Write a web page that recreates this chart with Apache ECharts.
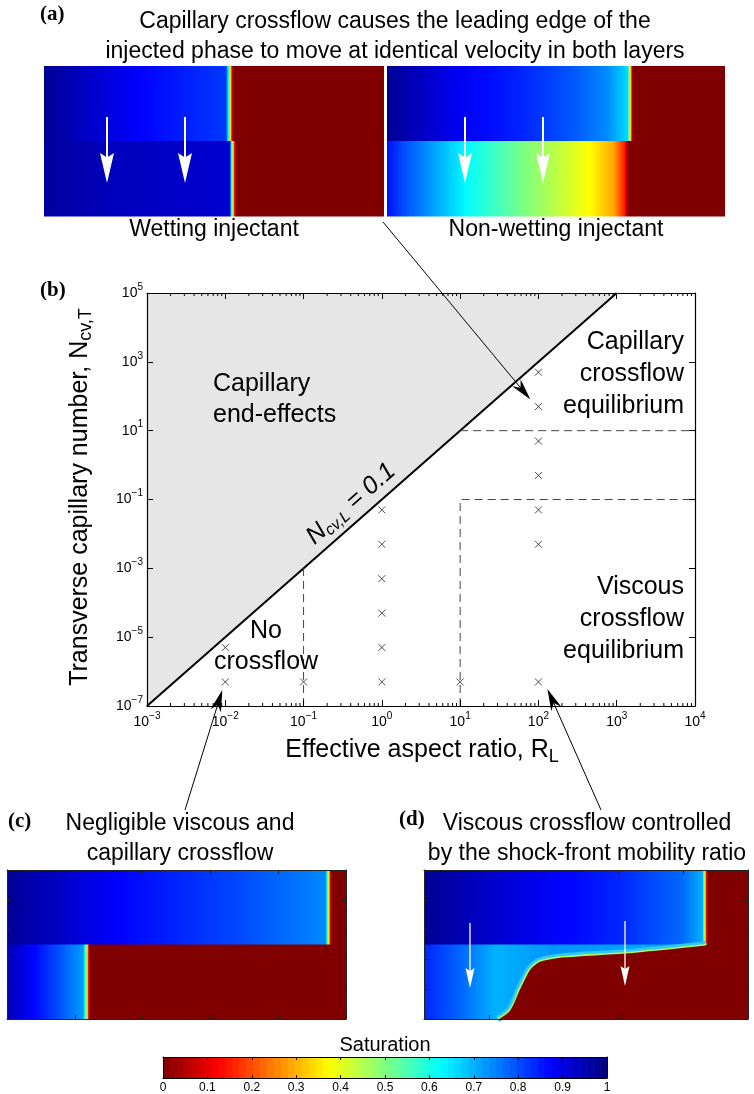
<!DOCTYPE html>
<html>
<head>
<meta charset="utf-8">
<script src="https://cdn.jsdelivr.net/npm/echarts@6/dist/echarts.min.js"></script>
<style>
  html, body { margin: 0; padding: 0; background: #fff; }
  #chart { width: 754px; height: 1094px; }
</style>
</head>
<body>
<div id="chart"></div>
<script>
// ---------------- Regime map (panel b) ----------------
const NCV_L = 0.1;                        // longitudinal capillary number along the regime boundary
const BOUNDARY_RL = [1e-3, 1e3];          // R_L span of the N_cv,L = 0.1 line
const SIM_RL   = [0.01, 0.01, 0.1, 1, 1, 1, 1, 1, 1, 10, 100, 100, 100, 100, 100, 100, 100];
const SIM_NCVT = [5e-6, 5e-7, 5e-7, 5e-2, 5e-3, 5e-4, 5e-5, 5e-6, 5e-7, 5e-7, 5e2, 5e1, 5, 5e-1, 5e-2, 5e-3, 5e-7];
const NOXF_RL  = [0.1, 0.1];   const NOXF_N  = [1e-7, 1e-3];
const VISC_RL  = [10, 10, 1e4]; const VISC_N = [1e-7, 1e-1, 1e-1];
const CAPEQ_RL = [10, 1e4];    const CAPEQ_N = [10, 10];
const X_EXP = [-3, 4];         // decades shown on the R_L axis
const Y_EXP = [-7, 5];         // decades shown on the N_cv,T axis

// ---------------- Saturation fields: [position along layer, saturation] ----------------
const A_WET_TOP = [[0, 0.98], [0.1, 0.94], [0.28, 0.875], [0.535, 0.82], [0.545, 0.55], [0.551, 0.2], [0.556, 0], [1, 0]];
const A_WET_BOT = [[0, 0.97], [0.2, 0.94], [0.545, 0.92], [0.553, 0.55], [0.559, 0.2], [0.564, 0], [1, 0]];
const A_NW_TOP  = [[0, 0.98], [0.2, 0.89], [0.4, 0.84], [0.55, 0.79], [0.65, 0.74], [0.712, 0.66], [0.719, 0.4], [0.727, 0], [1, 0]];
const A_NW_BOT  = [[0, 0.86], [0.05, 0.8], [0.23, 0.63], [0.41, 0.5], [0.6, 0.375], [0.67, 0.29], [0.703, 0.15], [0.714, 0], [1, 0]];
const C_TOP     = [[0, 0.98], [0.33, 0.875], [0.7, 0.8], [0.94, 0.74], [0.948, 0.45], [0.956, 0], [1, 0]];
const C_BOT     = [[0, 0.95], [0.08, 0.87], [0.16, 0.79], [0.225, 0.72], [0.235, 0.45], [0.243, 0], [1, 0]];
const D_TOP     = [[0, 0.98], [0.3, 0.9], [0.6, 0.84], [0.8, 0.77], [0.86, 0.7], [0.866, 0.45], [0.874, 0], [1, 0]];
const D_BOT     = [[0, 0.84], [0.12, 0.77], [0.22, 0.7], [0.4, 0.73], [0.87, 0.7], [1, 0.7]];
// displacement front in the lower layer of panel (d), fractions of the panel width / height
const D_FRONT_X = [0.227, 0.264, 0.293, 0.324, 0.346, 0.367, 0.427, 0.620, 0.864, 0.872];
const D_FRONT_Y = [0, 0.06, 0.195, 0.329, 0.376, 0.396, 0.418, 0.445, 0.497, 0.503];
const LAYER_SPLIT = 0.5;                  // interface between the two layers
const CBAR_LEVELS = 64;                   // colour levels on the saturation bar

const FONT = '"Liberation Sans", Arial, Helvetica, sans-serif';
const SERIF = '"Liberation Serif", "Times New Roman", serif';
const L10 = Math.log10;

// MATLAB-style jet colour map, reversed so that saturation 1 is dark blue
function jet(s) {
  const t = 1 - s;
  const c = v => Math.round(255 * Math.max(0, Math.min(1, v)));
  return 'rgb(' + c(1.5 - Math.abs(4 * t - 3)) + ',' + c(1.5 - Math.abs(4 * t - 2)) + ',' + c(1.5 - Math.abs(4 * t - 1)) + ')';
}
// gradient stops that follow the colour map between successive profile points
function stopsOf(profile) {
  const out = [];
  for (let i = 0; i < profile.length - 1; i++) {
    const [p0, s0] = profile[i], [p1, s1] = profile[i + 1];
    const n = Math.max(1, Math.ceil(Math.abs(s1 - s0) / 0.04));
    for (let k = 0; k < n; k++) {
      const f = k / n;
      out.push({ offset: p0 + (p1 - p0) * f, color: jet(s0 + (s1 - s0) * f) });
    }
  }
  const last = profile[profile.length - 1];
  out.push({ offset: last[0], color: jet(last[1]) });
  return out;
}

function fieldSeries(axisIdx, top, bottom) {
  const layers = [
    { y0: LAYER_SPLIT, y1: 1, profile: top },
    { y0: 0, y1: LAYER_SPLIT, profile: bottom }
  ];
  return {
    type: 'custom', xAxisIndex: axisIdx, yAxisIndex: axisIdx, silent: true, z: 2,
    data: layers.map(l => [0, l.y0, 1, l.y1]),
    encode: { x: [0, 2], y: [1, 3] },
    renderItem(params, api) {
      const tl = api.coord([api.value(0), api.value(3)]);
      const br = api.coord([api.value(2), api.value(1)]);
      return {
        type: 'rect',
        shape: { x: tl[0], y: tl[1], width: br[0] - tl[0], height: br[1] - tl[1] + 0.5 },
        style: { fill: new echarts.graphic.LinearGradient(0, 0, 1, 0, stopsOf(layers[params.dataIndex].profile)) }
      };
    }
  };
}

function expLabel(v) {
  const e = Math.round(v);
  return '{b|10}{s|' + (e < 0 ? '\u2212' + (-e) : e) + '}';
}
const expRich = {
  b: { fontSize: 14, fontFamily: FONT, color: '#000' },
  s: { fontSize: 10, fontFamily: FONT, color: '#000', padding: [0, 0, 12, 0] }
};

function boxAxis(dim, grid, pos, min, max, interval, o) {
  o = o || {};
  return {
    type: 'value', gridIndex: grid, position: pos, min, max, interval, z: 10,
    show: o.hidden ? false : true,
    axisLine: { show: true, onZero: false, lineStyle: { color: o.color || '#000', width: o.lw || 1 } },
    axisTick: { show: o.ticks !== false, inside: true, length: o.tickLen || 5, lineStyle: { color: o.color || '#000', width: 1 } },
    axisLabel: o.label || { show: false },
    splitLine: { show: false },
    minorTick: { show: false }
  };
}

const chart = echarts.init(document.getElementById('chart'), null, { renderer: 'canvas' });

const grids = [
  { left: 147, top: 293, width: 548, height: 413 },   // regime map
  { left: 44, top: 66, width: 340, height: 150 },     // wetting injectant
  { left: 387, top: 66, width: 338, height: 150 },    // non-wetting injectant
  { left: 7, top: 870, width: 339, height: 149 },     // panel c
  { left: 424, top: 870, width: 324, height: 149 },   // panel d
  { left: 163, top: 1057, width: 444, height: 21 }    // colour bar
].map(g => Object.assign({ containLabel: false, outerBoundsMode: 'none' }, g));

const xAxes = [
  boxAxis('x', 0, 'bottom', X_EXP[0], X_EXP[1], 1, { lw: 1.2, tickLen: 6,
    label: { show: true, formatter: expLabel, rich: expRich, margin: 5 } }),
  boxAxis('x', 0, 'top', X_EXP[0], X_EXP[1], 1, { lw: 1.2, tickLen: 6 }),
  boxAxis('x', 1, 'bottom', 0, 1, 1, { hidden: true }),
  boxAxis('x', 2, 'bottom', 0, 1, 1, { hidden: true }),
  boxAxis('x', 3, 'bottom', 0, 1, 0.2, { color: '#222', tickLen: 4 }),
  boxAxis('x', 3, 'top', 0, 1, 0.2, { color: '#222', tickLen: 4 }),
  boxAxis('x', 4, 'bottom', 0, 1, 0.2, { color: '#222', tickLen: 4 }),
  boxAxis('x', 4, 'top', 0, 1, 0.2, { color: '#222', tickLen: 4 }),
  boxAxis('x', 5, 'bottom', 0, 1, 0.1, { tickLen: 3,
    label: { show: true, fontSize: 12, fontFamily: FONT, color: '#000', margin: 4,
      formatter: v => String(+v.toFixed(1)) } }),
  boxAxis('x', 5, 'top', 0, 1, 0.1, { tickLen: 3 })
];
const yAxes = [
  boxAxis('y', 0, 'left', Y_EXP[0], Y_EXP[1], 2, { lw: 1.2, tickLen: 6,
    label: { show: true, formatter: expLabel, rich: expRich, margin: 4 } }),
  boxAxis('y', 0, 'right', Y_EXP[0], Y_EXP[1], 2, { lw: 1.2, tickLen: 6 }),
  boxAxis('y', 1, 'left', 0, 1, 1, { hidden: true }),
  boxAxis('y', 2, 'left', 0, 1, 1, { hidden: true }),
  boxAxis('y', 3, 'left', 0, 1, 0.2, { color: '#222', tickLen: 4 }),
  boxAxis('y', 3, 'right', 0, 1, 0.2, { color: '#222', tickLen: 4 }),
  boxAxis('y', 4, 'left', 0, 1, 0.2, { color: '#222', tickLen: 4 }),
  boxAxis('y', 4, 'right', 0, 1, 0.2, { color: '#222', tickLen: 4 }),
  boxAxis('y', 5, 'left', 0, 1, 1, { ticks: false }),
  boxAxis('y', 5, 'right', 0, 1, 1, { ticks: false })
];

// logarithmic minor ticks along the R_L axis
const MINOR_X = [];
for (let d = X_EXP[0]; d < X_EXP[1]; d++) for (let k = 2; k <= 9; k++) MINOR_X.push([d + L10(k)]);

const toLog = (xs, ys) => xs.map((x, i) => [L10(x), L10(ys[i])]);
const dashed = { color: '#444', width: 1, type: [8, 5] };

const series = [
  // capillary end-effect region above N_cv,L = 0.1
  { type: 'line', xAxisIndex: 0, yAxisIndex: 0, silent: true, z: 3, symbol: 'none',
    data: BOUNDARY_RL.map(r => [L10(r), L10(NCV_L * r * r)]),
    lineStyle: { color: '#000', width: 2 },
    areaStyle: { color: '#e6e6e6', opacity: 1, origin: 'end' } },
  { type: 'line', xAxisIndex: 0, yAxisIndex: 0, silent: true, z: 4, symbol: 'none',
    data: toLog(NOXF_RL, NOXF_N), lineStyle: dashed },
  { type: 'line', xAxisIndex: 0, yAxisIndex: 0, silent: true, z: 4, symbol: 'none',
    data: toLog(VISC_RL, VISC_N), lineStyle: dashed },
  { type: 'line', xAxisIndex: 0, yAxisIndex: 0, silent: true, z: 4, symbol: 'none',
    data: toLog(CAPEQ_RL, CAPEQ_N), lineStyle: dashed },
  { type: 'scatter', xAxisIndex: 0, yAxisIndex: 0, silent: true, z: 6,
    data: toLog(SIM_RL, SIM_NCVT),
    symbol: 'path://M0,0L10,10M10,0L0,10', symbolSize: 7,
    itemStyle: { color: 'none', borderColor: '#222', borderWidth: 1 } },
  { type: 'custom', xAxisIndex: 0, yAxisIndex: 0, silent: true, z: 11, data: MINOR_X,
    renderItem(params, api) {
      const b = api.coord([api.value(0), Y_EXP[0]]);
      const t = api.coord([api.value(0), Y_EXP[1]]);
      return { type: 'group', children: [
        { type: 'line', shape: { x1: b[0], y1: b[1], x2: b[0], y2: b[1] - 3 }, style: { stroke: '#000', lineWidth: 1 } },
        { type: 'line', shape: { x1: t[0], y1: t[1], x2: t[0], y2: t[1] + 3 }, style: { stroke: '#000', lineWidth: 1 } }
      ] };
    } },
  fieldSeries(2, A_WET_TOP, A_WET_BOT),
  fieldSeries(3, A_NW_TOP, A_NW_BOT),
  fieldSeries(4, C_TOP, C_BOT),
  fieldSeries(6, D_TOP, D_BOT),
  // displaced-phase region behind the curved front in panel d
  { type: 'custom', xAxisIndex: 6, yAxisIndex: 6, silent: true, z: 3, data: [[0, 0]],
    renderItem(params, api) {
      const pts = D_FRONT_X.map((x, i) => api.coord([x, D_FRONT_Y[i]]));
      const poly = pts.concat([api.coord([1, D_FRONT_Y[D_FRONT_Y.length - 1]]), api.coord([1, 0])]);
      return { type: 'group', children: [
        { type: 'polyline', shape: { points: pts, smooth: 0.3 }, style: { stroke: '#30c8ff', lineWidth: 7, fill: null } },
        { type: 'polygon', shape: { points: poly, smooth: 0 }, style: { fill: jet(0) } },
        { type: 'polyline', shape: { points: pts, smooth: 0.3 }, style: { stroke: '#a8ff50', lineWidth: 1.6, fill: null } }
      ] };
    } },
  // colour bar
  { type: 'custom', xAxisIndex: 8, yAxisIndex: 8, silent: true, z: 2,
    data: Array.from({ length: CBAR_LEVELS }, (_, i) => [i / CBAR_LEVELS, (i + 1) / CBAR_LEVELS, (i + 0.5) / CBAR_LEVELS]),
    renderItem(params, api) {
      const a = api.coord([api.value(0), 1]);
      const b = api.coord([api.value(1), 0]);
      return { type: 'rect', shape: { x: a[0], y: a[1], width: b[0] - a[0] + 0.6, height: b[1] - a[1] },
        style: { fill: jet(api.value(2)) } };
    } }
];

chart.setOption({
  animation: false,
  backgroundColor: '#fff',
  textStyle: { fontFamily: FONT },
  grid: grids,
  xAxis: xAxes,
  yAxis: yAxes,
  series: series
});

// ---------------- annotations ----------------
function txt(x, y, text, o) {
  o = o || {};
  return { type: 'text', x, y, z: 100, rotation: o.rotation || 0, silent: true,
    style: { text, fontSize: o.size || 22, fontFamily: o.family || FONT, fontWeight: o.weight || 'normal',
      fontStyle: o.style || 'normal', fill: o.fill || '#000', align: o.align || 'center',
      verticalAlign: 'middle', lineHeight: o.lh, rich: o.rich } };
}
function arrow(x0, y0, x1, y1, o) {
  const dx = x1 - x0, dy = y1 - y0, L = Math.hypot(dx, dy), ux = dx / L, uy = dy / L, px = -uy, py = ux;
  const bx = x1 - ux * o.headLen, by = y1 - uy * o.headLen;
  const nx = x1 - ux * o.headLen * (1 - (o.notch || 0)), ny = y1 - uy * o.headLen * (1 - (o.notch || 0));
  return [
    { type: 'line', z: 100, silent: true, shape: { x1: x0, y1: y0, x2: nx + ux, y2: ny + uy },
      style: { stroke: o.color, lineWidth: o.lw } },
    { type: 'polygon', z: 100, silent: true,
      shape: { points: [[x1, y1], [bx + px * o.headW, by + py * o.headW], [nx, ny], [bx - px * o.headW, by - py * o.headW]] },
      style: { fill: o.color } }
  ];
}
const px = (r, n) => chart.convertToPixel({ gridIndex: 0 }, [L10(r), L10(n)]);
const blackArrow = { color: '#000', lw: 1, headLen: 22, headW: 5.5, notch: 0.3 };
const bigWhite = { color: '#fff', lw: 2, headLen: 30, headW: 7, notch: 0.15 };
const smallWhite = { color: '#fff', lw: 1.3, headLen: 20, headW: 4.5, notch: 0.15 };

const tipA = px(100, 5e1), tipC = px(0.01, 5e-7), tipD = px(100, 5e-7);
const sub = (size, pad) => ({ fontSize: size, fontFamily: FONT, fill: '#000', padding: [pad, 0, 0, 0] });

const graphics = [
  txt(40, 15, '(a)', { family: SERIF, weight: 'bold', size: 21, align: 'left' }),
  txt(395, 37, 'Capillary crossflow causes the leading edge of the\ninjected phase to move at identical velocity in both layers', { size: 23, lh: 30 }),
  txt(214, 230, 'Wetting injectant', { size: 23 }),
  txt(556, 230, 'Non-wetting injectant', { size: 23 }),
  txt(40, 291, '(b)', { family: SERIF, weight: 'bold', size: 21, align: 'left' }),
  txt(213, 400, 'Capillary\nend-effects', { size: 25, lh: 31 , align: 'left' }),
  txt(266, 647, 'No\ncrossflow', { size: 25, lh: 31 }),
  txt(684, 374, 'Capillary\ncrossflow\nequilibrium', { size: 25, lh: 32, align: 'right' }),
  txt(684, 619, 'Viscous\ncrossflow\nequilibrium', { size: 25, lh: 32, align: 'right' }),
  txt(351, 504, '{n|N}{s|cv,L}{n| = 0.1}', { rotation: Math.atan2(2 * 413 / 12, 548 / 7),
    rich: { n: { fontSize: 25, fontStyle: 'italic', fontFamily: FONT, fill: '#000' },
            s: Object.assign(sub(16, 12), { fontStyle: 'italic' }) } }),
  txt(80, 497, '{n|Transverse capillary number, N}{s|cv,T}', { rotation: Math.PI / 2,
    rich: { n: { fontSize: 25, fontFamily: FONT, fill: '#000' }, s: sub(18, 12) } }),
  txt(422, 750, '{n|Effective aspect ratio, R}{s|L}', {
    rich: { n: { fontSize: 25, fontFamily: FONT, fill: '#000' }, s: sub(18, 14) } }),
  txt(8, 822, '(c)', { family: SERIF, weight: 'bold', size: 21, align: 'left' }),
  txt(180, 839, 'Negligible viscous and\ncapillary crossflow', { size: 23, lh: 30 }),
  txt(399, 820, '(d)', { family: SERIF, weight: 'bold', size: 21, align: 'left' }),
  txt(587, 839, 'Viscous crossflow controlled\nby the shock-front mobility ratio', { size: 23, lh: 30 }),
  txt(385, 1045, 'Saturation', { size: 20 })
]
  .concat(arrow(383, 222, tipA[0] - 8, tipA[1] - 7, blackArrow))
  .concat(arrow(185, 810, tipC[0] - 3, tipC[1] + 8, blackArrow))
  .concat(arrow(601, 810, tipD[0] + 9, tipD[1] + 7, blackArrow))
  .concat(arrow(107, 117, 107, 183, bigWhite))
  .concat(arrow(185, 117, 185, 183, bigWhite))
  .concat(arrow(465, 117, 465, 183, bigWhite))
  .concat(arrow(543, 117, 543, 183, bigWhite))
  .concat(arrow(470, 923, 470, 988, smallWhite))
  .concat(arrow(625, 921, 625, 986, smallWhite));

chart.setOption({ graphic: { elements: graphics } });
</script>
</body>
</html>
